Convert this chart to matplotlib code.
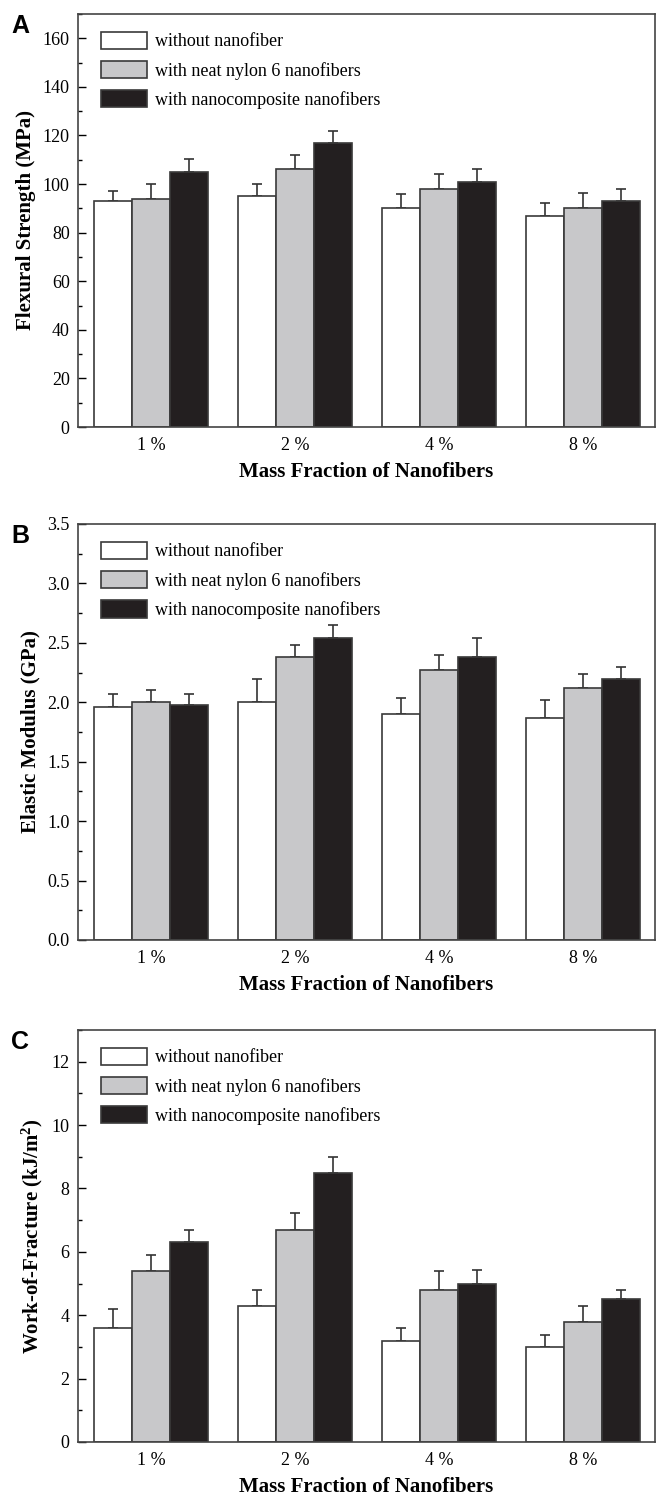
import numpy as np
import matplotlib
matplotlib.use('Agg')
import matplotlib.pyplot as plt
from matplotlib.ticker import MultipleLocator

plt.rcParams['font.family'] = 'Liberation Serif'
plt.rcParams['mathtext.default'] = 'regular'

groups = ['1 %', '2 %', '4 %', '8 %']
series = ['without nanofiber', 'with neat nylon 6 nanofibers', 'with nanocomposite nanofibers']

# A: flexural strength (MPa), upper error
flex_none = [93, 95, 90, 87]
flex_neat = [94, 106, 98, 90]
flex_comp = [105, 117, 101, 93]
flex_none_err = [4, 5, 6, 5.3]
flex_neat_err = [6, 6, 6, 6.3]
flex_comp_err = [5.4, 5, 5, 4.8]

# B: elastic modulus (GPa)
mod_none = [1.96, 2.00, 1.90, 1.87]
mod_neat = [2.00, 2.38, 2.27, 2.12]
mod_comp = [1.98, 2.54, 2.38, 2.20]
mod_none_err = [0.11, 0.20, 0.14, 0.15]
mod_neat_err = [0.10, 0.10, 0.13, 0.12]
mod_comp_err = [0.09, 0.11, 0.16, 0.10]

# C: work of fracture (kJ/m2)
wof_none = [3.6, 4.3, 3.2, 3.0]
wof_neat = [5.4, 6.7, 4.8, 3.8]
wof_comp = [6.3, 8.5, 5.0, 4.5]
wof_none_err = [0.6, 0.5, 0.4, 0.37]
wof_neat_err = [0.5, 0.52, 0.6, 0.5]
wof_comp_err = [0.4, 0.5, 0.42, 0.3]

colors = ['white', '#c8c8ca', '#231f20']
W, H = 656, 1496
fig = plt.figure(figsize=(W / 100, H / 100), dpi=100)

panels = [
    ('A', (14, 427), [flex_none, flex_neat, flex_comp], [flex_none_err, flex_neat_err, flex_comp_err],
     'Flexural Strength (MPa)', 170, 20, 10, '%d'),
    ('B', (524, 940), [mod_none, mod_neat, mod_comp], [mod_none_err, mod_neat_err, mod_comp_err],
     'Elastic Modulus (GPa)', 3.5, 0.5, 0.25, '%.1f'),
    ('C', (1030, 1442), [wof_none, wof_neat, wof_comp], [wof_none_err, wof_neat_err, wof_comp_err],
     'Work-of-Fracture (kJ/m$^2$)', 13, 2, 1, '%d'),
]

x = np.arange(1, 5)
bw = 0.264
for letter, (top, bot), vals, errs, ylab, ymax, major, minor, fmt in panels:
    ax = fig.add_axes([78 / W, 1 - bot / H, (655 - 78) / W, (bot - top) / H])
    for i in range(3):
        ax.bar(x + (i - 1) * bw, vals[i], bw, color=colors[i], edgecolor='#3a3a3a',
               linewidth=1.2, label=series[i], zorder=2)
        ax.errorbar(x + (i - 1) * bw, vals[i], yerr=[np.zeros(4), errs[i]], fmt='none',
                    ecolor='#333333', elinewidth=1.2, capsize=3.5, capthick=1.2, zorder=1)
    ax.set_xlim(0.49, 4.5)
    ax.set_ylim(0, ymax)
    ax.set_xticks(x)
    ax.set_xticklabels(groups)
    ax.yaxis.set_major_locator(MultipleLocator(major))
    ax.yaxis.set_minor_locator(MultipleLocator(minor))
    ax.yaxis.set_major_formatter(plt.FormatStrFormatter(fmt))
    ax.tick_params(axis='y', which='major', direction='in', length=6, width=1, labelsize=13, pad=6)
    ax.tick_params(axis='y', which='minor', direction='in', length=3, width=1)
    ax.tick_params(axis='x', length=0, labelsize=13, pad=7)
    for s in ax.spines.values():
        s.set_color('#444444')
        s.set_linewidth(1.2)
    ax.set_ylabel(ylab, fontsize=15, fontweight='bold', labelpad=5)
    ax.set_xlabel('Mass Fraction of Nanofibers', fontsize=15, fontweight='bold', labelpad=6)
    leg = ax.legend(loc='upper left', bbox_to_anchor=(0.028, 0.975), frameon=False, fontsize=13,
                    handlelength=2.55, handleheight=1.1, labelspacing=0.58, handletextpad=0.4,
                    borderaxespad=0)
    for p in leg.get_patches():
        p.set_edgecolor('#3a3a3a')
        p.set_linewidth(1.2)
    fig.text(20 / W, 1 - (top + 12) / H, letter, family='Liberation Sans', fontweight='bold',
             fontsize=18, ha='center', va='center')

fig.savefig('out.png', dpi=100)
